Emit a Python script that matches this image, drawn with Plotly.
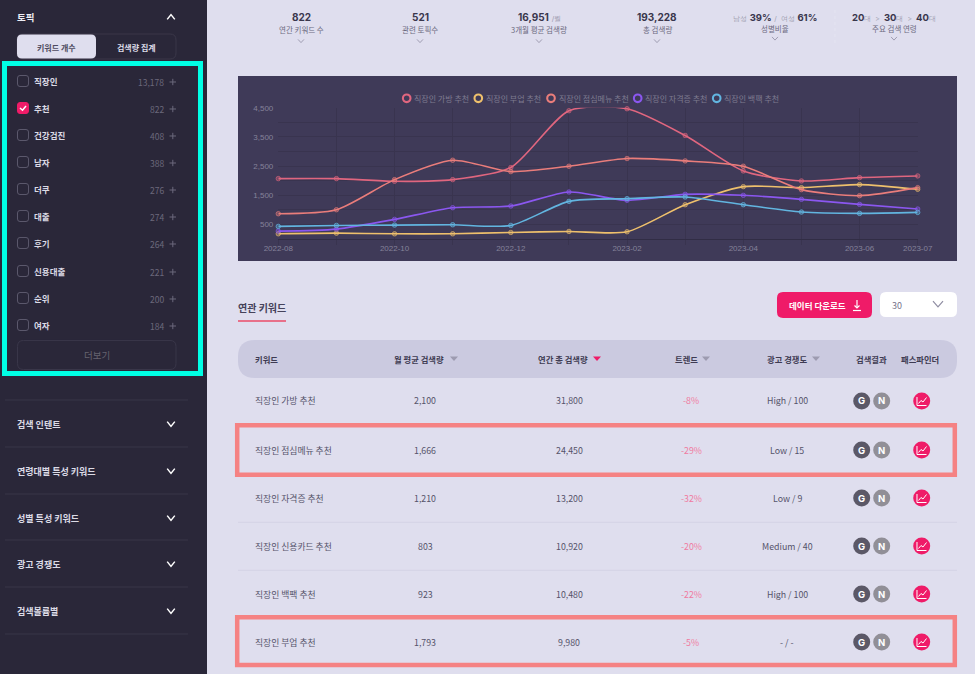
import plotly.graph_objects as go

W, H = 975, 674

months = ['2022-08', '2022-09', '2022-10', '2022-11', '2022-12', '2023-01', '2023-02', '2023-03', '2023-04', '2023-05', '2023-06', '2023-07']
month_labels = ['2022-08', '', '2022-10', '', '2022-12', '', '2023-02', '', '2023-04', '', '2023-06', '2023-07']
y_ticks = [0, 500, 1000, 1500, 2000, 2500, 3000, 3500, 4000, 4500]
y_labels = ['', '500', '', '1,500', '', '2,500', '', '3,500', '', '4,500']

bag = [2070, 2070, 1978, 2035, 2448, 4396, 4465, 3548, 2333, 1990, 2104, 2161]
side_job = [179, 201, 178, 178, 225, 259, 248, 1176, 1795, 1760, 1864, 1703]
lunch = [866, 1004, 2035, 2700, 2310, 2494, 2758, 2677, 2494, 1692, 1485, 1760]
license_ = [270, 340, 672, 1073, 1130, 1611, 1325, 1531, 1497, 1359, 1187, 1027]
backpack = [431, 465, 477, 488, 465, 1290, 1382, 1440, 1176, 924, 878, 912]

series_names = ['직장인 가방 추천', '직장인 부업 추천', '직장인 점심메뉴 추천', '직장인 자격증 추천', '직장인 백팩 추천']
series_values = [bag, side_job, lunch, license_, backpack]
series_colors = ['#e0667f', '#eec06c', '#ea7d7b', '#8b57f0', '#62b5e0']
marker_lines = ['rgba(224,102,127,0.6)', 'rgba(238,192,108,0.6)', 'rgba(234,125,123,0.6)', 'rgba(139,87,240,0.6)', 'rgba(98,181,224,0.7)']
marker_fills = ['rgba(224,102,127,0.35)', 'rgba(238,192,108,0.35)', 'rgba(234,125,123,0.35)', 'rgba(139,87,240,0.35)', 'rgba(98,181,224,0.35)']
legend_x = [406.7, 478.3, 551, 637.7, 716.7]

topics = ['직장인', '추천', '건강검진', '남자', '더쿠', '대출', '후기', '신용대출', '순위', '여자']
topic_counts = ['13,178', '822', '408', '388', '276', '274', '264', '221', '200', '184']
topic_y = [81, 108, 135, 162, 189, 216, 243, 271, 298, 325]
sections = ['검색 인텐트', '연령대별 특성 키워드', '성별 특성 키워드', '광고 경쟁도', '검색볼륨별']
section_y = [424, 471, 518, 564, 611]
section_lines = [400, 447, 494, 540, 587, 634]

keywords = ['직장인 가방 추천', '직장인 점심메뉴 추천', '직장인 자격증 추천', '직장인 신용카드 추천', '직장인 백팩 추천', '직장인 부업 추천']
monthly = ['2,100', '1,666', '1,210', '803', '923', '1,793']
yearly = ['31,800', '24,450', '13,200', '10,920', '10,480', '9,980']
trend = ['-8%', '-29%', '-32%', '-20%', '-22%', '-5%']
competition = ['High / 100', 'Low / 15', 'Low / 9', 'Medium / 40', 'High / 100', '- / -']
row_y = [401, 450, 498, 546, 594, 642]
row_lines = [522.3, 570.3]

KR = 'Noto Sans CJK KR'
SIDE = '#2a2739'
BG = '#dfdeee'
PINK = '#ef1b68'
shapes = []
notes = []


def fx(x):
    return x / W


def fy(y):
    return 1 - y / H


def path(points, close=False):
    s = ' '.join(('M' if i == 0 else 'L') + f' {fx(x):.5f} {fy(y):.5f}' for i, (x, y) in enumerate(points))
    return s + (' Z' if close else '')


def round_path(x0, y0, x1, y1, r):
    p = lambda x, y: f'{fx(x):.5f} {fy(y):.5f}'
    return (f'M {p(x0 + r, y0)} L {p(x1 - r, y0)} Q {p(x1, y0)} {p(x1, y0 + r)} L {p(x1, y1 - r)} Q {p(x1, y1)} {p(x1 - r, y1)} '
            f'L {p(x0 + r, y1)} Q {p(x0, y1)} {p(x0, y1 - r)} L {p(x0, y0 + r)} Q {p(x0, y0)} {p(x0 + r, y0)} Z')


def add_path(d, fill=None, line=None, width=1, dash='solid'):
    shapes.append(dict(type='path', path=d, xref='paper', yref='paper', layer='below',
                       fillcolor=fill or 'rgba(0,0,0,0)', line=dict(color=line or 'rgba(0,0,0,0)', width=width if line else 0, dash=dash)))


def add_rect(x0, y0, x1, y1, fill=None, line=None, width=1, layer='below'):
    shapes.append(dict(type='rect', xref='paper', yref='paper', x0=fx(x0), x1=fx(x1), y0=fy(y0), y1=fy(y1), layer=layer,
                       fillcolor=fill or 'rgba(0,0,0,0)', line=dict(color=line or 'rgba(0,0,0,0)', width=width if line else 0)))


def add_circle(cx, cy, r, fill=None, line=None, width=1):
    shapes.append(dict(type='circle', xref='paper', yref='paper', x0=fx(cx - r), x1=fx(cx + r), y0=fy(cy - r), y1=fy(cy + r), layer='below',
                       fillcolor=fill or 'rgba(0,0,0,0)', line=dict(color=line or 'rgba(0,0,0,0)', width=width if line else 0)))


def text(x, y, s, size=8.8, color='#55536a', anchor='center', font=KR):
    notes.append(dict(x=fx(x), y=fy(y), xref='paper', yref='paper', text=s, showarrow=False, xanchor=anchor, yanchor='middle',
                      font=dict(size=size, color=color, family=font), borderpad=0, borderwidth=0))


def chevron(x, y, color='#ffffff', up=False, w=3.8, h=2.4, width=1.5):
    s = -1 if up else 1
    add_path(path([(x - w, y - s * h), (x, y + s * h), (x + w, y - s * h)]), line=color, width=width)


# page background
add_rect(0, 0, W, H, fill=BG)
add_rect(0, 0, 207, H, fill=SIDE)

# sidebar
text(17, 17, '<b>토픽</b>', 9.5, '#eeeef5', 'left')
chevron(171, 17, up=True)
add_path(round_path(17, 34, 176, 59, 6), fill=SIDE, line='#3a3749')
add_path(round_path(17, 34.5, 96, 58.5, 5), fill=BG)
text(56.5, 47, '<b>키워드 개수</b>', 8, '#4e4b60')
text(136, 47, '<b>검색량 집계</b>', 8, '#dddce8')
for name, count, y in zip(topics, topic_counts, topic_y):
    checked = name == '추천'
    add_path(round_path(17.5, y - 5.5, 28.5, y + 5.5, 2.5), fill=PINK if checked else None, line=PINK if checked else '#5b586c', width=1)
    if checked:
        add_path(path([(20, y), (22.5, y + 2.2), (26, y - 2)]), line='#ffffff', width=1.5)
    text(34, y, f'<b>{name}</b>', 8.5, '#dcdbe6', 'left')
    text(164, y + 1, count, 8.5, '#6c697c', 'right')
    add_path(path([(169.5, y + 1), (176, y + 1)]), line='#6c697c', width=1)
    add_path(path([(172.8, y - 2.2), (172.8, y + 4.2)]), line='#6c697c', width=1)
add_path(round_path(17.5, 340.5, 176, 369.5, 6), line='#393649')
text(96.5, 355, '더보기', 9.5, '#66636f')
for y in section_lines:
    add_path(path([(5, y), (188, y)]), line='#393649')
for name, y in zip(sections, section_y):
    text(17, y, f'<b>{name}</b>', 9, '#dcdbe6', 'left')
    chevron(171, y)

# top stats
stat_x = [301, 420, 539, 657]
stat_big = ['822', '521', '16,951', '193,228']
stat_small = ['연간 키워드 수', '관련 토픽수', '3개월 평균 검색량', '총 검색량']
for x, big, small in zip(stat_x, stat_big, stat_small):
    suffix = ' <span style="font-size:7px;color:#9a98ac">/월</span>' if big == '16,951' else ''
    text(x, 17, f'<b>{big}</b>{suffix}', 10, '#39364c', font='Inter')
    text(x, 30, small, 7.5, '#6d6a80')
    chevron(x, 41, '#8f8da2', w=3, h=1.6, width=0.8)
G = '<span style="font-size:7px;color:#a09eb0">'
text(775, 17, f'{G}남성</span> <b>39%</b> {G}/  여성</span> <b>61%</b>', 9.5, '#39364c', font='Inter')
text(775, 28.5, '성별비율', 7.5, '#6d6a80')
chevron(775, 38.5, '#8f8da2', w=3, h=1.6, width=0.8)
text(894, 17, f'<b>20</b>{G}대  &gt;  </span><b>30</b>{G}대  &gt;  </span><b>40</b>{G}대</span>', 9.5, '#39364c', font='Inter')
text(894, 28.5, '주요 검색 연령', 7.5, '#6d6a80')
chevron(894, 38.5, '#8f8da2', w=3, h=1.6, width=0.8)
add_path(path([(835, 10), (835, 43)]), line='#e5e4f1', width=1, dash='dot')

# chart panel and hand placed legend
add_rect(238, 76, 957, 261, fill='#3f3a58')
for name, color, x in zip(series_names, series_colors, legend_x):
    add_circle(x, 98.3, 3.8, line=color, width=2.1)
    text(x + 7.5, 98, name, 8, '#7e7a90', 'left')

# keyword table
text(238, 307, '<b>연관 키워드</b>', 10, '#45425a', 'left')
add_rect(238, 320, 286, 322, fill='#e8708a')
add_path(round_path(777, 292, 872, 318, 6), fill=PINK)
text(817, 305, '<b>데이터 다운로드</b>', 8.5, '#ffffff')
add_path(path([(857, 300), (857, 308)]), line='#ffffff', width=1.2)
add_path(path([(854.5, 305.5), (857, 308), (859.5, 305.5)]), line='#ffffff', width=1.2)
add_path(path([(853, 310.5), (861, 310.5)]), line='#ffffff', width=1.2)
add_path(round_path(880, 292, 957, 317, 6), fill='#ffffff')
text(892, 305, '30', 9, '#77748a', 'left')
chevron(938, 304, '#8f8da2', w=5, h=2.8, width=1.2)
add_path(round_path(238, 340, 957, 378, 17), fill='#cbcae0')
text(255, 359, '<b>키워드</b>', 8.3, '#3e3b52', 'left')
heads = ['월 평균 검색량', '연간 총 검색량', '트렌드', '광고 경쟁도']
head_x = [419, 563, 686, 787]
tri_x = [454, 597, 706, 816]
for name, x, tx in zip(heads, head_x, tri_x):
    text(x, 359, f'<b>{name}</b>', 8.3, '#3e3b52')
    c = PINK if name == '연간 총 검색량' else '#9d9bb0'
    add_path(path([(tx - 4, 356.5), (tx + 4, 356.5), (tx, 361)], close=True), fill=c)
text(871.7, 359, '<b>검색결과</b>', 8.3, '#3e3b52')
text(920, 359, '<b>패스파인더</b>', 8.3, '#3e3b52')
for y in row_lines:
    add_path(path([(238, y), (957, y)]), line='#d4d3e5')
for i, y in enumerate(row_y):
    text(255, y, keywords[i], 8.8, '#55536a', 'left')
    text(425, y, monthly[i], 8.8)
    text(569, y, yearly[i], 8.8)
    text(691, y, trend[i], 8.8, '#f07aa0')
    text(787, y, competition[i], 8.8)
    add_circle(861.7, y, 8.5, fill='#5b5867')
    add_circle(881.7, y, 8.5, fill='#918f97')
    text(861.7, y, '<b>G</b>', 9.5, '#ffffff', font='Inter')
    text(881.7, y, '<b>N</b>', 9.5, '#ffffff', font='Inter')
    add_circle(921.7, y, 8.5, fill=PINK)
    add_path(path([(917, y - 4), (917, y + 4.5), (926.5, y + 4.5)]), line='#ffffff', width=1)
    add_path(path([(918.5, y + 2.5), (921, y - 0.5), (923, y + 1), (926.5, y - 3.5)]), line='#ffffff', width=1)

# highlight boxes
add_rect(4.5, 63.5, 200.5, 373.5, line='#00ffe5', width=5)
add_rect(237.2, 425.2, 954.8, 474.8, line='#f58283', width=4.5)
add_rect(237.2, 617.2, 954.8, 665, line='#f58283', width=4.5)

fig = go.Figure()
for name, values, color, m_line, m_fill in zip(series_names, series_values, series_colors, marker_lines, marker_fills):
    fig.add_trace(go.Scatter(x=months, y=values, name=name, mode='lines+markers', cliponaxis=False,
                             line=dict(color=color, width=1.6, shape='spline', smoothing=0.7),
                             marker=dict(size=4.5, color=m_fill, line=dict(color=m_line, width=1))))

fig.update_layout(width=W, height=H, autosize=False, margin=dict(l=0, r=0, t=0, b=0, pad=0, autoexpand=False), showlegend=False,
                  paper_bgcolor=BG, plot_bgcolor='rgba(0,0,0,0)', shapes=shapes, annotations=notes,
                  font=dict(family=KR), hovermode='x')
fig.update_xaxes(type='category', domain=[278.3 / W, 917.7 / W], range=[0, 11], tickmode='array', tickvals=months, ticktext=month_labels,
                 tickangle=0, showgrid=True, gridcolor='#39344f', gridwidth=1, ticks='outside', ticklen=5, tickcolor='#39344f', ticklabelstandoff=-4,
                 showline=True, linecolor='#312d45', tickfont=dict(family='Liberation Sans', size=8, color='#85829a'), automargin=False)
fig.update_yaxes(domain=[1 - 239 / H, 1 - 107.7 / H], range=[0, 4500], tickmode='array', tickvals=y_ticks, ticktext=y_labels,
                 showgrid=True, gridcolor='#39344f', gridwidth=1, zeroline=False, ticks='', ticklabelstandoff=4,
                 tickfont=dict(family='Liberation Sans', size=8, color='#85829a'), automargin=False)

fig.write_html('out.html', config=dict(displayModeBar=False),
               post_script="document.body.style.margin='0';document.body.style.overflow='hidden';")
